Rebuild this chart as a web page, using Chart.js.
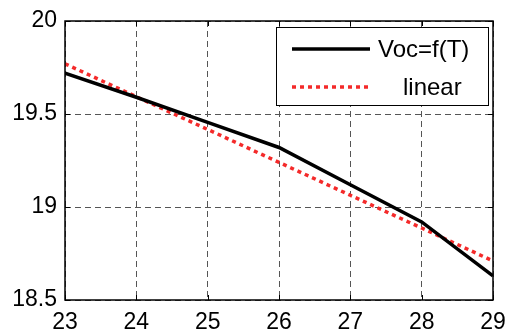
<!DOCTYPE html>
<html>
<head>
<meta charset="utf-8">
<script src="https://cdn.jsdelivr.net/npm/chart.js@4"></script>
<style>
  html, body { margin: 0; padding: 0; background: #fff; }
  #wrap { width: 506px; height: 332px; }
</style>
</head>
<body>
<div id="wrap"><canvas id="vocChart" width="506" height="332"></canvas></div>
<script>
// data
const temps = [23, 24, 25, 26, 27, 28, 29];
const vocValues = [19.72, 19.59, 19.455, 19.32, 19.12, 18.92, 18.63];
const linearValues = [19.77, 19.593, 19.417, 19.24, 19.063, 18.887, 18.71];
const xTicks = [23, 24, 25, 26, 27, 28, 29];
const yTicks = [18.5, 19, 19.5, 20];

const FONT = 'Liberation Sans, Arial, sans-serif';

// box around the plot, inward tick marks and the legend
const framePlugin = {
    id: 'frame',
    afterDraw(chart) {
        const ctx = chart.ctx;
        const a = chart.chartArea;
        const xs = chart.scales.x, ys = chart.scales.y;
        ctx.save();
        ctx.strokeStyle = '#000';
        ctx.lineWidth = 1.5;
        ctx.strokeRect(a.left, a.top, a.right - a.left, a.bottom - a.top);
        ctx.lineWidth = 1;
        ctx.beginPath();
        xTicks.forEach(v => {
            const px = Math.round(xs.getPixelForValue(v)) + 0.5;
            ctx.moveTo(px, a.bottom); ctx.lineTo(px, a.bottom - 5);
            ctx.moveTo(px, a.top); ctx.lineTo(px, a.top + 5);
        });
        yTicks.forEach(v => {
            const py = Math.round(ys.getPixelForValue(v)) + 0.5;
            ctx.moveTo(a.left, py); ctx.lineTo(a.left + 5, py);
            ctx.moveTo(a.right, py); ctx.lineTo(a.right - 5, py);
        });
        ctx.stroke();

        // legend box
        const bx = 276, by = 27, bw = 212, bh = 78;
        ctx.fillStyle = '#fff';
        ctx.fillRect(bx, by, bw, bh);
        ctx.lineWidth = 1;
        ctx.strokeStyle = '#000';
        ctx.strokeRect(bx + 0.5, by + 0.5, bw, bh);

        const rows = [
            { ds: chart.data.datasets[0], y: 49, textX: 378 },
            { ds: chart.data.datasets[1], y: 87, textX: 403 }
        ];
        rows.forEach(r => {
            ctx.beginPath();
            ctx.strokeStyle = r.ds.borderColor;
            ctx.lineWidth = r.ds.borderWidth;
            ctx.setLineDash(r.ds.borderDash || []);
            ctx.moveTo(292, r.y);
            ctx.lineTo(370, r.y);
            ctx.stroke();
            ctx.setLineDash([]);
            ctx.fillStyle = '#000';
            ctx.font = '24px ' + FONT;
            ctx.textBaseline = 'middle';
            ctx.textAlign = 'left';
            ctx.fillText(r.ds.label, r.textX, r.y + 1);
        });
        ctx.restore();
    }
};

document.addEventListener('DOMContentLoaded', function() {
    const ctx = document.getElementById('vocChart').getContext('2d');

    new Chart(ctx, {
        type: 'line',
        data: {
            labels: temps,
            datasets: [{
                label: 'Voc=f(T)',
                data: temps.map((t, i) => ({ x: t, y: vocValues[i] })),
                borderColor: '#000',
                borderWidth: 3.5,
                pointRadius: 0,
                tension: 0
            }, {
                label: 'linear',
                data: temps.map((t, i) => ({ x: t, y: linearValues[i] })),
                borderColor: '#f42a2a',
                borderWidth: 3.5,
                borderDash: [4, 4],
                pointRadius: 0,
                tension: 0
            }]
        },
        options: {
            responsive: false,
            animation: false,
            layout: { padding: { left: 0, top: 21, right: 13, bottom: 0 } },
            plugins: {
                legend: { display: false },
                tooltip: { enabled: false }
            },
            scales: {
                x: {
                    type: 'linear',
                    min: 23,
                    max: 29,
                    afterBuildTicks: s => { s.ticks = xTicks.map(v => ({ value: v })); },
                    afterFit: s => { s.height = 32; s.paddingLeft = 0; s.paddingRight = 0; },
                    grid: { color: '#555', lineWidth: 1, drawTicks: false },
                    border: { display: false, dash: [6, 4] },
                    ticks: {
                        color: '#000',
                        padding: 9,
                        maxRotation: 0,
                        font: { family: FONT, size: 23 }
                    }
                },
                y: {
                    min: 18.5,
                    max: 20,
                    afterBuildTicks: s => { s.ticks = yTicks.map(v => ({ value: v })); },
                    afterFit: s => { s.width = 65; s.paddingTop = 0; s.paddingBottom = 0; },
                    grid: { color: '#555', lineWidth: 1, drawTicks: false },
                    border: { display: false, dash: [6, 4] },
                    ticks: {
                        color: '#000',
                        padding: 8,
                        font: { family: FONT, size: 23 },
                        callback: v => String(v)
                    }
                }
            }
        },
        plugins: [framePlugin]
    });
});
</script>
</body>
</html>
